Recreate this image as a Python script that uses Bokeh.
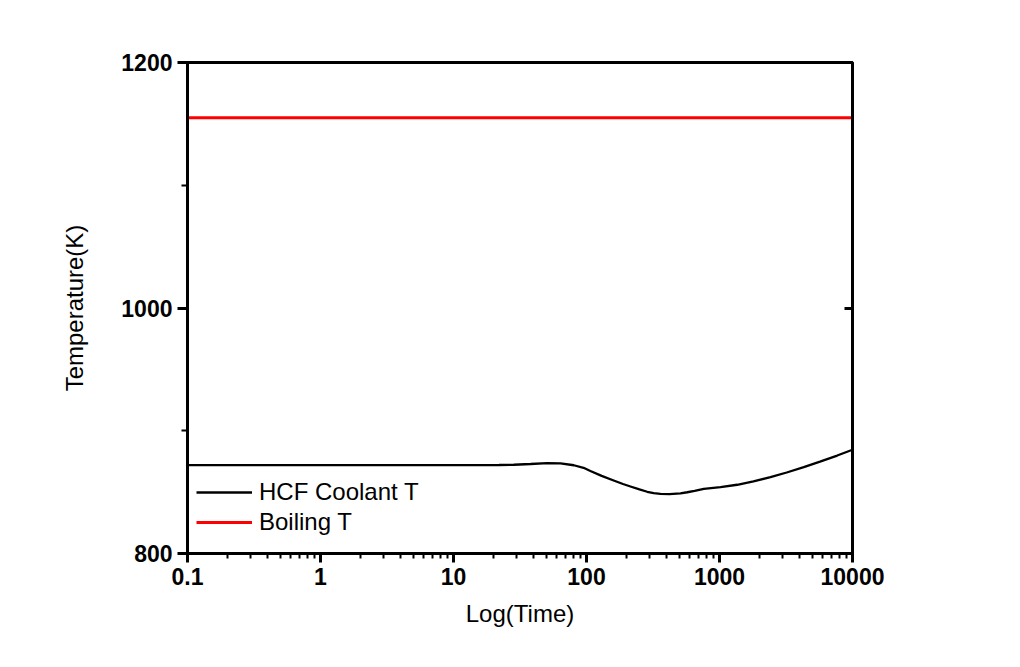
from bokeh.plotting import figure
from bokeh.models import (FixedTicker, LinearAxis, Range1d, Legend, LegendItem,
                          CustomJSTickFormatter)
from bokeh.embed import file_html
from bokeh.resources import INLINE

# ---- data ----
time_s = [0.1, 0.3, 1, 3, 10, 16, 22, 28.4, 38, 50.7, 63.8, 80.3, 95, 107, 130, 160, 188,
          214, 250, 286, 320, 360, 420, 509, 572, 650, 762, 1018, 1358, 1800, 2417,
          3200, 4303, 5700, 7674, 10000]
coolant_T = [872.0, 872.0, 872.0, 872.0, 872.0, 872.0, 872.1, 872.3, 872.9, 873.6, 873.4,
             871.9, 869.8, 867.2, 863.2, 859.5, 856.6, 854.6, 852.2, 850.3, 849.2, 848.6,
             848.4, 849.0, 849.9, 851.0, 852.7, 854.0, 856.0, 858.8, 862.2, 866.0, 870.3,
             874.8, 879.8, 884.5]
boiling_time = [0.1, 10000]
boiling_T = [1155.0, 1155.0]

x_ticks = [0.1, 1, 10, 100, 1000, 10000]
x_minor = [m * d for d in [0.1, 1, 10, 100, 1000] for m in range(2, 10)]
y_ticks = [800, 1000, 1200]
y_minor = [900, 1100]

FONT = "Liberation Sans"

p = figure(width=1000, height=650, x_axis_type="log",
           x_range=Range1d(0.1, 10000), y_range=Range1d(800, 1200),
           output_backend="svg", toolbar_location=None,
           min_border_left=187, min_border_right=148, min_border_top=62, min_border_bottom=97)
p.grid.visible = False
p.outline_line_color = "black"
p.outline_line_width = 3
p.outline_line_alpha = 1.0

r_cool = p.line(time_s, coolant_T, line_color="black", line_width=2.3)
r_boil = p.line(boiling_time, boiling_T, line_color="#ff0000", line_width=3)

# bottom axis
xa = p.xaxis[0]
xa.ticker = FixedTicker(ticks=x_ticks, minor_ticks=x_minor)
xa.formatter = CustomJSTickFormatter(code="return Number(tick.toPrecision(6)).toString();")
xa.axis_label = "Log(Time)"
xa.axis_line_width = 3
xa.major_tick_out = 9
xa.major_tick_in = 0
xa.minor_tick_out = 5
xa.minor_tick_in = 0
xa.major_tick_line_width = 3
xa.minor_tick_line_width = 2
xa.major_label_standoff = 5
xa.major_label_text_font = FONT
xa.major_label_text_font_style = "bold"
xa.major_label_text_font_size = "23px"
xa.major_label_text_color = "black"
xa.axis_label_text_font = FONT
xa.axis_label_text_font_style = "normal"
xa.axis_label_text_font_size = "24px"
xa.axis_label_text_color = "black"
xa.axis_label_standoff = 12

# left axis
ya = p.yaxis[0]
ya.ticker = FixedTicker(ticks=y_ticks, minor_ticks=y_minor)
ya.axis_label = "Temperature(K)"
ya.axis_line_width = 3
ya.major_tick_out = 10
ya.major_tick_in = 0
ya.minor_tick_out = 6
ya.minor_tick_in = 0
ya.major_tick_line_width = 3
ya.minor_tick_line_width = 2
ya.major_label_standoff = 5
ya.major_label_text_font = FONT
ya.major_label_text_font_style = "bold"
ya.major_label_text_font_size = "23px"
ya.major_label_text_color = "black"
ya.axis_label_text_font = FONT
ya.axis_label_text_font_style = "normal"
ya.axis_label_text_font_size = "24px"
ya.axis_label_text_color = "black"
ya.axis_label_standoff = 30

# right axis: inward ticks, no labels
ra = LinearAxis(ticker=FixedTicker(ticks=y_ticks, minor_ticks=[]),
                formatter=CustomJSTickFormatter(code="return '';"))
ra.axis_line_width = 3
ra.major_tick_in = 8
ra.major_tick_out = 0
ra.minor_tick_in = 0
ra.minor_tick_out = 0
ra.major_tick_line_width = 3
ra.major_label_text_font_size = "1px"
ra.major_label_standoff = 0
p.add_layout(ra, "right")

legend = Legend(items=[LegendItem(label="HCF Coolant T", renderers=[r_cool]),
                       LegendItem(label="Boiling T", renderers=[r_boil])],
                location=(9, 16), padding=0, spacing=0, margin=0,
                label_height=30, glyph_height=30, glyph_width=56, label_standoff=7,
                border_line_color=None, background_fill_alpha=0,
                label_text_font=FONT, label_text_font_size="24px", label_text_color="black")
p.add_layout(legend)

open("out.html", "w").write(file_html(p, INLINE))
